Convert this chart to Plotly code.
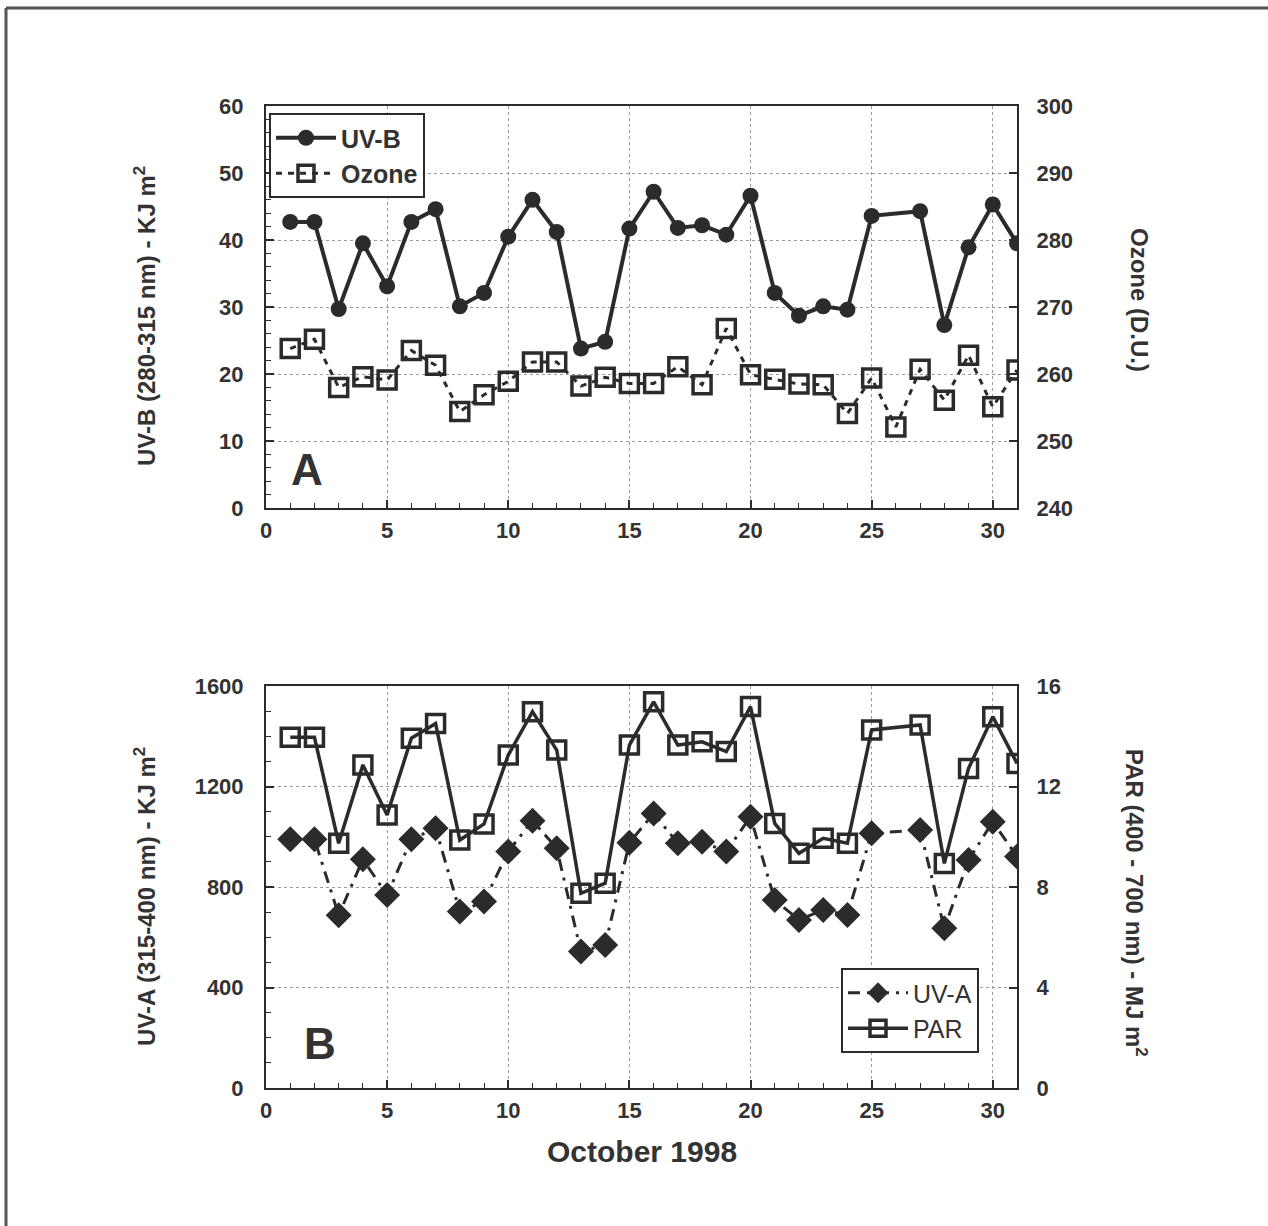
import plotly.graph_objects as go

days = list(range(1, 32))
uvb = [42.7, 42.7, 29.7, 39.5, 33.1, 42.7, 44.6, 30.1, 32.1, 40.5, 46.0, 41.2, 23.8, 24.8, 41.7,
       47.2, 41.8, 42.2, 40.8, 46.6, 32.1, 28.7, 30.1, 29.6, 43.6, None, 44.3, 27.3, 38.9, 45.3, 39.5]
ozone = [263.8, 265.2, 258.0, 259.6, 259.1, 263.5, 261.3, 254.4, 256.9, 258.9, 261.8, 261.8, 258.2, 259.5, 258.6,
         258.6, 261.1, 258.4, 266.8, 259.9, 259.2, 258.5, 258.4, 254.1, 259.4, 252.1, 260.7, 256.1, 262.8, 255.1, 260.6]
uva = [990, 990, 688, 910, 768, 990, 1034, 702, 742, 941, 1064, 954, 543, 569, 976,
       1093, 974, 980, 941, 1080, 748, 669, 708, 689, 1014, None, 1027, 636, 907, 1060, 921]
par = [13.96, 13.96, 9.74, 12.86, 10.87, 13.92, 14.51, 9.87, 10.51, 13.25, 14.98, 13.45, 7.75, 8.15, 13.65,
       15.37, 13.65, 13.78, 13.39, 15.18, 10.53, 9.34, 9.94, 9.74, 14.25, None, 14.45, 8.94, 12.72, 14.78, 12.92]

W, H = 1268, 1226
def px(x): return x / W
def py(y): return 1 - y / H

DARK = "#2b2b2b"
TXT = "#333333"
FONT = "Liberation Sans, Arial, sans-serif"
GRID = "#9a9a9a"

fig = go.Figure()

fig.add_trace(go.Scatter(x=days, y=uvb, name="UV-B", mode="lines+markers", connectgaps=True,
                         line=dict(color=DARK, width=4),
                         marker=dict(symbol="circle", size=16, color=DARK),
                         xaxis="x", yaxis="y", legend="legend"))
fig.add_trace(go.Scatter(x=days, y=ozone, name="Ozone", mode="lines+markers",
                         line=dict(color=DARK, width=3, dash="6px,6px"),
                         marker=dict(symbol="square-open", size=18, color=DARK, line=dict(width=3.5, color=DARK)),
                         xaxis="x", yaxis="y2", legend="legend"))
fig.add_trace(go.Scatter(x=days, y=uva, name="UV-A", mode="lines+markers", connectgaps=True,
                         line=dict(color=DARK, width=3, dash="12px,7px,3px,7px"),
                         marker=dict(symbol="diamond", size=20, color=DARK),
                         xaxis="x2", yaxis="y3", legend="legend2"))
fig.add_trace(go.Scatter(x=days, y=par, name="PAR", mode="lines+markers", connectgaps=True,
                         line=dict(color=DARK, width=3.5),
                         marker=dict(symbol="square-open", size=18, color=DARK, line=dict(width=3.5, color=DARK)),
                         xaxis="x2", yaxis="y4", legend="legend2"))

xdom = [px(266), px(1017)]
ydomA = [py(508), py(106)]
ydomB = [py(1088), py(686)]

tickfont = dict(family=FONT, size=22, color=TXT, weight="bold")

def xaxis_cfg(anchor, dom_y):
    return dict(domain=xdom, anchor=anchor, range=[0, 31], tickmode="array",
                tickvals=[0, 5, 10, 15, 20, 25, 30], ticks="inside", ticklen=8, tickwidth=1.5,
                tickcolor=DARK, showline=True, linecolor=DARK, linewidth=2, mirror=True,
                showgrid=True, gridcolor=GRID, griddash="dot", gridwidth=1,
                minor=dict(ticks="inside", dtick=1, ticklen=5, tickwidth=1, tickcolor=DARK, showgrid=False),
                tickfont=tickfont, zeroline=False, automargin=False, ticklabelstandoff=2)

def yleft_cfg(anchor, dom, rng, dtick, mdt):
    return dict(domain=dom, anchor=anchor, range=rng, dtick=dtick, ticks="inside", ticklen=8,
                tickwidth=1.5, tickcolor=DARK, showline=True, linecolor=DARK, linewidth=2,
                showgrid=True, gridcolor=GRID, griddash="dot", gridwidth=1, zeroline=False,
                minor=dict(ticks="inside", dtick=mdt, ticklen=5, tickwidth=1, tickcolor=DARK, showgrid=False),
                tickfont=tickfont, automargin=False, ticklabelstandoff=16)

def yright_cfg(anchor, overlay, rng, dtick):
    return dict(anchor=anchor, overlaying=overlay, side="right", range=rng, dtick=dtick,
                ticks="inside", ticklen=8, tickwidth=1.5, tickcolor=DARK, showline=True,
                linecolor=DARK, linewidth=2, showgrid=False, zeroline=False,
                tickfont=tickfont, automargin=False, ticklabelstandoff=13)

fig.update_layout(
    width=W, height=H, margin=dict(l=0, r=0, t=0, b=0),
    paper_bgcolor="white", plot_bgcolor="white",
    xaxis=xaxis_cfg("y", ydomA),
    xaxis2=xaxis_cfg("y3", ydomB),
    yaxis=yleft_cfg("x", ydomA, [0, 60], 10, 2),
    yaxis2=yright_cfg("x", "y", [240, 300], 10),
    yaxis3=yleft_cfg("x2", ydomB, [0, 1600], 400, 100),
    yaxis4=yright_cfg("x2", "y3", [0, 16], 4),
    legend=dict(x=px(269), y=py(113), xanchor="left", yanchor="top",
                bgcolor="white", bordercolor=DARK, borderwidth=2,
                font=dict(family=FONT, size=25, color=TXT, weight="bold"),
                tracegroupgap=0, itemwidth=60),
    legend2=dict(x=px(841), y=py(968), xanchor="left", yanchor="top",
                 bgcolor="white", bordercolor=DARK, borderwidth=2,
                 font=dict(family=FONT, size=25, color=TXT),
                 tracegroupgap=0, itemwidth=60),
    showlegend=True,
)

ann_font = dict(family=FONT, size=24, color=TXT, weight="bold")
anns = [
    dict(x=px(145), y=py(316), text="UV-B (280-315 nm) - KJ m<sup>2</sup>", textangle=-90),
    dict(x=px(1140), y=py(300), text="Ozone (D.U.)", textangle=90),
    dict(x=px(145), y=py(897), text="UV-A (315-400 nm) - KJ m<sup>2</sup>", textangle=-90),
    dict(x=px(1136), y=py(903), text="PAR (400 - 700 nm) - MJ m<sup>2</sup>", textangle=90),
    dict(x=px(642), y=py(1151), text="October 1998", textangle=0, font=dict(family=FONT, size=30, color=TXT, weight="bold")),
    dict(x=px(307), y=py(470), text="A", textangle=0, font=dict(family=FONT, size=44, color=TXT, weight="bold")),
    dict(x=px(320), y=py(1043), text="B", textangle=0, font=dict(family=FONT, size=44, color=TXT, weight="bold")),
]
for a in anns:
    a.setdefault("font", ann_font)
    fig.add_annotation(xref="paper", yref="paper", showarrow=False, xanchor="center", yanchor="middle", **a)

fig.add_shape(type="line", xref="paper", yref="paper", x0=px(6), x1=px(6), y0=0, y1=py(8),
              line=dict(color="#555555", width=3))
fig.add_shape(type="line", xref="paper", yref="paper", x0=px(6), x1=1, y0=py(8), y1=py(8),
              line=dict(color="#555555", width=3))

fig.write_html("out.html")
